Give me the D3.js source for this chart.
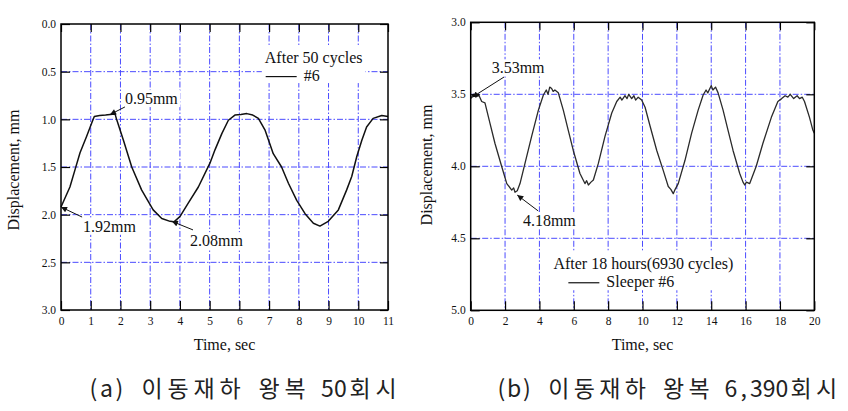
<!DOCTYPE html>
<html>
<head>
<meta charset="utf-8">
<script src="https://cdn.jsdelivr.net/npm/d3@7"></script>
<style>
  body { margin: 0; background: #fff; }
  text { font-family: "Liberation Serif", "Times New Roman", serif; fill: #111; }
  .cap { font-family: "Noto Sans CJK KR", sans-serif; fill: #222; }
</style>
</head>
<body>
<script>
// panel (a): after 50 cycles
let timeA = [0, 0.3, 0.47, 0.64, 0.86, 1.03, 1.12, 1.3, 1.5, 1.65, 1.82, 1.87, 2.1, 2.38, 2.71, 3.1, 3.39, 3.67, 3.8, 4.0, 4.28, 4.62, 5.01, 5.18, 5.41, 5.63, 5.85, 6.05, 6.25, 6.45, 6.64, 6.86, 7.14, 7.42, 7.65, 7.93, 8.21, 8.49, 8.71, 8.99, 9.33, 9.61, 9.78, 9.95, 10.12, 10.28, 10.5, 10.79, 11];
let dispA = [1.92, 1.71, 1.53, 1.35, 1.18, 1.04, 0.97, 0.96, 0.955, 0.95, 0.945, 1.0, 1.22, 1.5, 1.74, 1.95, 2.04, 2.07, 2.075, 2.02, 1.88, 1.71, 1.46, 1.32, 1.15, 1.01, 0.955, 0.95, 0.94, 0.955, 0.99, 1.11, 1.36, 1.5, 1.67, 1.85, 1.99, 2.09, 2.12, 2.07, 1.95, 1.74, 1.6, 1.39, 1.22, 1.08, 0.99, 0.96, 0.97];
let xTicksA = d3.range(0, 12, 1);
let yTicksA = [0, 0.5, 1.0, 1.5, 2.0, 2.5, 3.0];
let notesA = [
  {label: "0.95mm", tx: 2.15, ty: 0.84, sx: 2.15, sy: 0.87, px: 1.65, py: 0.95},
  {label: "1.92mm", tx: 0.74, ty: 2.18, sx: 0.71, sy: 2.025, px: 0.0, py: 1.92},
  {label: "2.08mm", tx: 4.34, ty: 2.33, sx: 4.44, sy: 2.16, px: 3.73, py: 2.07}
];
let legendA = ["After 50 cycles", "#6"];

// panel (b): after 18 hours
let timeB = [0, 0.15, 0.3, 0.45, 0.64, 0.83, 1.12, 1.41, 1.8, 2.1, 2.39, 2.5, 2.58, 2.71, 2.87, 3.16, 3.55, 3.94, 4.23, 4.4, 4.5, 4.6, 4.71, 4.8, 4.9, 5.1, 5.39, 5.68, 5.97, 6.36, 6.65, 6.75, 6.85, 7.0, 7.14, 7.43, 7.82, 8.21, 8.5, 8.7, 8.8, 8.98, 9.1, 9.2, 9.37, 9.5, 9.6, 9.75, 9.95, 10.15, 10.44, 10.83, 11.21, 11.5, 11.65, 11.79, 11.9, 12.08, 12.47, 12.86, 13.24, 13.53, 13.7, 13.8, 13.92, 14.0, 14.1, 14.25, 14.4, 14.69, 14.98, 15.27, 15.66, 15.85, 15.95, 16.05, 16.24, 16.62, 17.01, 17.5, 17.88, 18.1, 18.3, 18.46, 18.6, 18.8, 19.0, 19.14, 19.3, 19.43, 19.72, 19.92, 20];
let dispB = [3.53, 3.5, 3.52, 3.5, 3.55, 3.56, 3.7, 3.84, 4.0, 4.12, 4.165, 4.15, 4.18, 4.17, 4.12, 3.98, 3.79, 3.61, 3.505, 3.47, 3.5, 3.45, 3.46, 3.48, 3.47, 3.49, 3.61, 3.75, 3.89, 4.05, 4.12, 4.1, 4.13, 4.11, 4.095, 3.98, 3.79, 3.63, 3.55, 3.52, 3.54, 3.51, 3.53, 3.5, 3.53, 3.51, 3.54, 3.52, 3.54, 3.59, 3.72, 3.89, 4.03, 4.14, 4.16, 4.19, 4.16, 4.12, 3.96, 3.77, 3.61, 3.505, 3.47, 3.49, 3.46, 3.44, 3.47, 3.45, 3.49, 3.61, 3.75, 3.89, 4.05, 4.11, 4.13, 4.11, 4.12, 4.0, 3.84, 3.66, 3.55, 3.53, 3.51, 3.52, 3.5, 3.53, 3.51, 3.53, 3.52, 3.55, 3.66, 3.75, 3.77];
let xTicksB = d3.range(0, 22, 2);
let yTicksB = [3.0, 3.5, 4.0, 4.5, 5.0];
let notesB = [
  {label: "3.53mm", tx: 1.22, ty: 3.354, sx: 1.94, sy: 3.38, px: 0.09, py: 3.52},
  {label: "4.18mm", tx: 3.04, ty: 4.415, sx: 3.93, sy: 4.31, px: 2.71, py: 4.2}
];
let legendB = ["After 18 hours(6930 cycles)", "Sleeper #6"];

let captions = ["(a) 이동재하 왕복 50회시", "(b) 이동재하 왕복 6,390회시"];

let svg = d3.select("body").append("svg")
    .attr("width", 848)
    .attr("height", 411);

svg.append("defs").append("marker")
    .attr("id", "arr")
    .attr("viewBox", "0 0 10 10")
    .attr("refX", 10).attr("refY", 5)
    .attr("markerWidth", 8).attr("markerHeight", 6)
    .attr("markerUnits", "userSpaceOnUse")
    .attr("orient", "auto")
    .append("path")
    .attr("d", "M0,0 L10,5 L0,10 z")
    .attr("fill", "#111");

function drawPanel(p) {
    let x = d3.scaleLinear().domain(p.xDomain).range(p.xRange);
    let y = d3.scaleLinear().domain(p.yDomain).range(p.yRange);
    let gGrid = svg.append("g"),
        gMask = svg.append("g"),
        gLine = svg.append("g"),
        gAxis = svg.append("g"),
        gText = svg.append("g");
    let left = p.xRange[0], right = p.xRange[1], top = p.yRange[0], bottom = p.yRange[1];

    // grid
    let gridStyle = function(s) {
        s.attr("stroke", "#4b4bff").attr("stroke-width", 1)
         .attr("stroke-dasharray", "6,2,1.5,2");
    };
    gGrid.selectAll(".vg").data(p.xTicks.slice(1, -1)).enter().append("line")
        .attr("x1", d => x(d)).attr("x2", d => x(d))
        .attr("y1", top).attr("y2", bottom).call(gridStyle);
    gGrid.selectAll(".hg").data(p.yTicks.slice(1, -1)).enter().append("line")
        .attr("y1", d => y(d)).attr("y2", d => y(d))
        .attr("x1", left).attr("x2", right).call(gridStyle);

    // curve
    let pts = p.time.map((t, i) => [t, p.disp[i]]);
    let line = d3.line().x(d => x(d[0])).y(d => y(d[1]));
    gLine.append("path")
        .datum(pts)
        .attr("fill", "none")
        .attr("stroke", p.color)
        .attr("stroke-width", p.width)
        .attr("stroke-linejoin", "round")
        .attr("d", line);

    // axes with inward ticks
    let fmt = d3.format(".1f");
    gAxis.append("g")
        .attr("transform", "translate(0," + bottom + ")")
        .call(d3.axisBottom(x).tickValues(p.xTicks).tickSizeInner(-9).tickSizeOuter(0).tickPadding(7))
        .call(g => g.select(".domain").remove());
    gAxis.append("g")
        .attr("transform", "translate(0," + top + ")")
        .call(d3.axisTop(x).tickValues(p.xTicks).tickSizeInner(-8).tickSizeOuter(0).tickFormat(""))
        .call(g => g.select(".domain").remove());
    gAxis.append("g")
        .attr("transform", "translate(" + left + ",0)")
        .call(d3.axisLeft(y).tickValues(p.yTicks).tickSizeInner(-9).tickSizeOuter(0).tickPadding(5).tickFormat(fmt))
        .call(g => g.select(".domain").remove());
    gAxis.append("g")
        .attr("transform", "translate(" + right + ",0)")
        .call(d3.axisRight(y).tickValues(p.yTicks).tickSizeInner(-8).tickSizeOuter(0).tickFormat(""))
        .call(g => g.select(".domain").remove());
    gAxis.selectAll(".tick line").attr("stroke", "#000").attr("stroke-width", 1.2);
    gAxis.selectAll(".tick text")
        .style("font-family", "'Liberation Serif', serif")
        .style("font-size", "11.5px")
        .attr("fill", "#111");
    gAxis.append("rect")
        .attr("x", left).attr("y", top)
        .attr("width", right - left).attr("height", bottom - top)
        .attr("fill", "none").attr("stroke", "#000").attr("stroke-width", 1.5);

    // axis titles
    gText.append("text")
        .attr("x", (left + right) / 2).attr("y", 350)
        .attr("text-anchor", "middle").attr("font-size", 16)
        .text("Time, sec");
    gText.append("text")
        .attr("transform", "translate(" + p.yTitleX + "," + p.yTitleY + ") rotate(-90)")
        .attr("text-anchor", "middle").attr("font-size", 16)
        .text("Displacement, mm");

    // annotations
    p.notes.forEach(function(n) {
        let t = gText.append("text")
            .attr("x", x(n.tx)).attr("y", y(n.ty))
            .attr("font-size", 16).text(n.label);
        let b = t.node().getBBox();
        gMask.append("rect")
            .attr("x", b.x - 2).attr("y", b.y)
            .attr("width", b.width + 4).attr("height", b.height)
            .attr("fill", "#fff");
        gText.append("line")
            .attr("x1", x(n.sx)).attr("y1", y(n.sy))
            .attr("x2", x(n.px)).attr("y2", y(n.py))
            .attr("stroke", "#111").attr("stroke-width", 1)
            .attr("marker-end", "url(#arr)");
    });

    // legend
    let lg = gText.append("g");
    let lx = x(p.legendAt[0]), ly = y(p.legendAt[1]);
    lg.append("text")
        .attr("x", lx).attr("y", ly)
        .attr("text-anchor", "middle").attr("font-size", 16)
        .text(p.legend[0]);
    let sw = lg.append("text")
        .attr("x", lx + p.keyShift).attr("y", ly + 18)
        .attr("font-size", 16)
        .text(p.legend[1]);
    let sb = sw.node().getBBox();
    lg.append("line")
        .attr("x1", sb.x - 38).attr("x2", sb.x - 7)
        .attr("y1", ly + 13.5).attr("y2", ly + 13.5)
        .attr("stroke", "#111").attr("stroke-width", 1.2);
    let lb = lg.node().getBBox();
    gMask.append("rect")
        .attr("x", lb.x - 3).attr("y", lb.y - 4)
        .attr("width", lb.width + 6).attr("height", lb.height + 3)
        .attr("fill", "#fff");

    // caption, laid out on a half-width / full-width character grid
    let chars = Array.from(p.caption);
    let cells = chars.map(c => /[\uac00-\ud7a3]/.test(c) ? 2 : 1);
    let cap = svg.append("text").attr("class", "cap")
        .attr("y", 397).attr("font-size", 23).attr("text-anchor", "middle");
    let pos = p.capX;
    chars.forEach(function(c, i) {
        if (c !== " ") {
            cap.append("tspan")
                .attr("x", pos + cells[i] * p.capUnit / 2)
                .text(c);
        }
        pos += cells[i] * p.capUnit;
    });
}

drawPanel({
    xDomain: [0, 11], xRange: [61, 388],
    yDomain: [0, 3], yRange: [24, 310],
    xTicks: xTicksA, yTicks: yTicksA,
    time: timeA, disp: dispA,
    color: "#111", width: 1.5,
    notes: notesA,
    legend: legendA, legendAt: [8.5, 0.41], keyShift: -10,
    yTitleX: 19, yTitleY: 170,
    caption: captions[0], capX: 87, capUnit: 13
});

drawPanel({
    xDomain: [0, 20], xRange: [470.7, 814.3],
    yDomain: [3, 5], yRange: [22.3, 310.3],
    xTicks: xTicksB, yTicks: yTicksB,
    time: timeB, disp: dispB,
    color: "#2a2a2a", width: 1.3,
    notes: notesB,
    legend: legendB, legendAt: [10.05, 4.715], keyShift: -37,
    yTitleX: 432, yTitleY: 165,
    caption: captions[1], capX: 495, capUnit: 12.75
});
</script>
</body>
</html>
